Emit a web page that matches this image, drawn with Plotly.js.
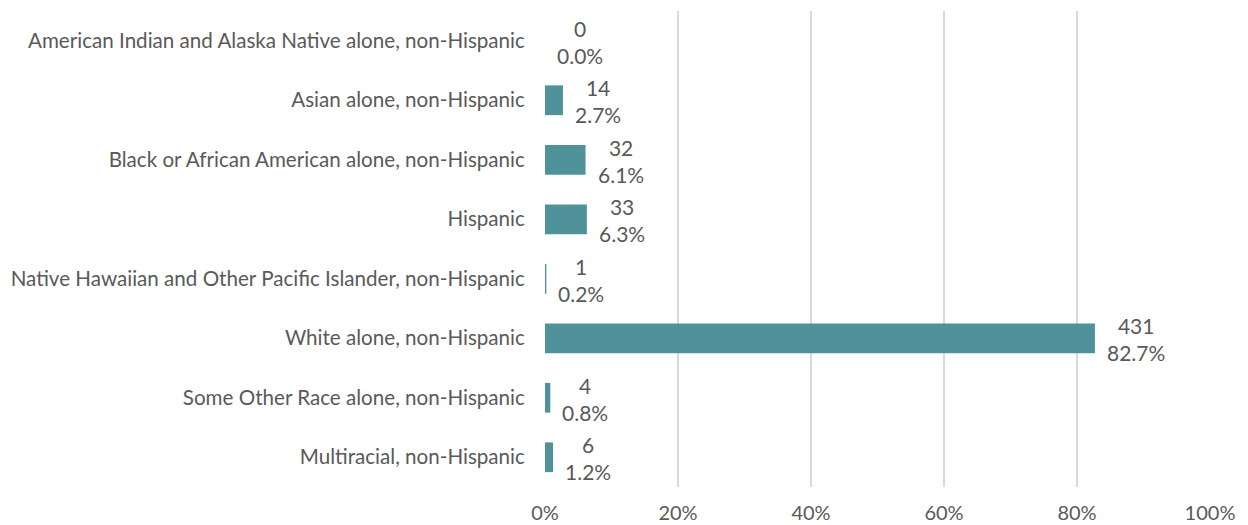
<!DOCTYPE html>
<html>
<head>
<meta charset="utf-8">
<script src="https://cdn.plot.ly/plotly-3.0.1.min.js"></script>
<style>
  html, body { margin: 0; padding: 0; background: #ffffff; }
  #chart { width: 1248px; height: 525px; }
</style>
</head>
<body>
<div id="chart"></div>
<script>
// Race / ethnicity breakdown: head counts and share of total
const categories = [
  "American Indian and Alaska Native alone, non-Hispanic",
  "Asian alone, non-Hispanic",
  "Black or African American alone, non-Hispanic",
  "Hispanic",
  "Native Hawaiian and Other Pacific Islander, non-Hispanic",
  "White alone, non-Hispanic",
  "Some Other Race alone, non-Hispanic",
  "Multiracial, non-Hispanic"
];
const counts = [0, 14, 32, 33, 1, 431, 4, 6];
const percents = [0.0, 2.7, 6.1, 6.3, 0.2, 82.7, 0.8, 1.2];
const xTickValues = [0, 0.2, 0.4, 0.6, 0.8, 1.0];
const xTickLabels = ["0%", "20%", "40%", "60%", "80%", "100%"];

const FONT = "Lato, 'Open Sans', sans-serif";
const TEXT_COLOR = "#595959";

const shares = percents.map(p => p / 100);

const trace = {
  type: "bar",
  orientation: "h",
  x: shares,
  y: categories,
  marker: { color: "#4f9299", line: { width: 0 } },
  hoverinfo: "none"
};

// Two-line value labels (count over percent) to the right of each bar
const annotations = categories.map((c, i) => ({
  x: shares[i],
  y: c,
  xref: "x",
  yref: "y",
  text: counts[i] + "<br>" + percents[i].toFixed(1) + "%",
  showarrow: false,
  xanchor: "left",
  yanchor: "middle",
  xshift: 10,
  yshift: -1,
  align: "center",
  font: { family: FONT, size: 21, color: TEXT_COLOR }
}));

const layout = {
  width: 1248,
  height: 525,
  margin: { l: 545, r: 38, t: 11, b: 38 },
  paper_bgcolor: "#ffffff",
  plot_bgcolor: "#ffffff",
  showlegend: false,
  bargap: 0.5,
  font: { family: FONT, size: 20, color: TEXT_COLOR },
  xaxis: {
    range: [0, 1],
    tickvals: xTickValues,
    ticktext: xTickLabels,
    showgrid: true,
    gridcolor: "#d9d9d9",
    gridwidth: 2,
    zeroline: false,
    showline: false,
    ticks: "outside",
    ticklen: 8,
    tickcolor: "rgba(0,0,0,0)",
    tickfont: { family: FONT, size: 20, color: TEXT_COLOR },
    fixedrange: true
  },
  yaxis: {
    autorange: "reversed",
    showgrid: false,
    zeroline: false,
    showline: false,
    ticks: "outside",
    ticklen: 15,
    tickcolor: "rgba(0,0,0,0)",
    tickfont: { family: FONT, size: 20.6, color: TEXT_COLOR },
    fixedrange: true
  },
  annotations: annotations
};

Plotly.newPlot("chart", [trace], layout, { displayModeBar: false, staticPlot: true });
</script>
</body>
</html>
